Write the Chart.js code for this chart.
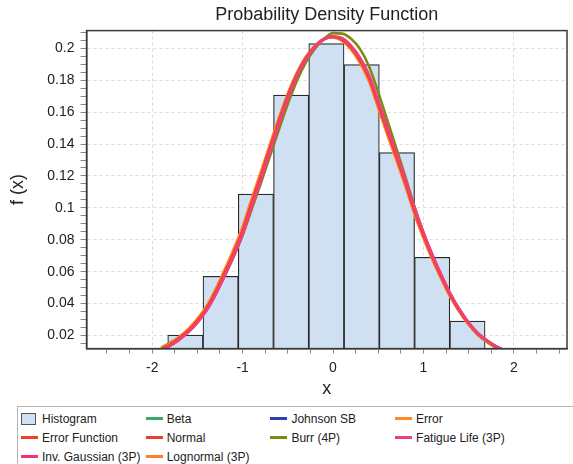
<!DOCTYPE html>
<html>
<head>
<meta charset="utf-8">
<script src="https://cdn.jsdelivr.net/npm/chart.js@4.4.1/dist/chart.umd.min.js"></script>
<style>
  body { margin: 0; background: #fff; width: 573px; height: 464px; overflow: hidden; position: relative; font-family: "Liberation Sans", Arial, sans-serif; }
  #wrap { position: absolute; left: 0; top: 0; width: 573px; height: 400px; }
  #legend { position: absolute; left: 17px; top: 406px; width: 570px; height: 70px; border: 1px solid #b4b4b4; box-sizing: border-box;
            padding: 2px 0 0 3px; display: grid; grid-template-columns: repeat(4, 124.7px); grid-auto-rows: 19px; font-size: 12px; color: #222; }
  .item { display: flex; align-items: center; white-space: nowrap; }
  .sw { width: 17px; height: 2.5px; margin-right: 4px; flex: none; }
  .box { width: 13px; height: 10px; border: 1px solid #555; margin-right: 6px; flex: none; }
</style>
</head>
<body>
<div id="wrap"><canvas id="pdfChart" width="573" height="400"></canvas></div>
<div id="legend"></div>
<script>
// Histograma (centros de clase y alturas)
const binCenters = [-1.633, -1.243, -0.853, -0.463, -0.073, 0.317, 0.707, 1.097, 1.487];
const binHeights = [0.0202, 0.0571, 0.1086, 0.1707, 0.2029, 0.1898, 0.1346, 0.069, 0.029];

const xs = [-1.9, -1.8, -1.7, -1.6, -1.5, -1.4, -1.3, -1.2, -1.1, -1.0, -0.9, -0.8, -0.7, -0.6, -0.5, -0.4, -0.3, -0.2, -0.1, 0.0,
            0.1, 0.2, 0.3, 0.4, 0.5, 0.6, 0.7, 0.8, 0.9, 1.0, 1.1, 1.2, 1.3, 1.4, 1.5, 1.6, 1.7, 1.8, 1.9];
const normalY = [0.0112, 0.0143, 0.0182, 0.0230, 0.0292, 0.0368, 0.0470, 0.0590, 0.0715, 0.0855, 0.1030, 0.1195, 0.1370, 0.1540, 0.1700, 0.1835, 0.1940, 0.2012, 0.2058, 0.2072,
                 0.2055, 0.2005, 0.1925, 0.1812, 0.1650, 0.1485, 0.1325, 0.1160, 0.0985, 0.0830, 0.0690, 0.0565, 0.0450, 0.0355, 0.0275, 0.0212, 0.0168, 0.0132, 0.0105];
const errorY = [0.0118, 0.0150, 0.0190, 0.0240, 0.0304, 0.0382, 0.0488, 0.0610, 0.0738, 0.0880, 0.1055, 0.1220, 0.1392, 0.1560, 0.1715, 0.1845, 0.1945, 0.2015, 0.2060, 0.2068,
                0.2048, 0.1993, 0.1908, 0.1792, 0.1628, 0.1462, 0.1302, 0.1138, 0.0965, 0.0812, 0.0675, 0.0552, 0.0440, 0.0347, 0.0269, 0.0208, 0.0165, 0.0130, 0.0104];
const fatigueY = [0.0106, 0.0136, 0.0174, 0.0221, 0.0281, 0.0356, 0.0455, 0.0573, 0.0697, 0.0835, 0.1008, 0.1173, 0.1350, 0.1522, 0.1685, 0.1825, 0.1933, 0.2008, 0.2056, 0.2074,
                  0.2063, 0.2015, 0.1938, 0.1828, 0.1668, 0.1505, 0.1345, 0.1180, 0.1003, 0.0846, 0.0704, 0.0577, 0.0460, 0.0363, 0.0281, 0.0216, 0.0170, 0.0133, 0.0105];
const burrY = [0.0125, 0.0155, 0.0192, 0.0238, 0.0295, 0.0366, 0.0460, 0.0572, 0.0692, 0.0828, 0.0990, 0.1150, 0.1320, 0.1488, 0.1650, 0.1795, 0.1912, 0.1998, 0.2058, 0.2095,
               0.2092, 0.2060, 0.1995, 0.1885, 0.1725, 0.1550, 0.1375, 0.1195, 0.1010, 0.0845, 0.0698, 0.0568, 0.0450, 0.0352, 0.0270, 0.0205, 0.0160, 0.0124, 0.0097];

const pts = ys => xs.map((x, i) => ({x: x, y: ys[i]}));

function curve(label, ys, color, order) {
    return {
        type: 'line', label: label, data: pts(ys), xAxisID: 'x',
        borderColor: color, backgroundColor: color, borderWidth: 2.6,
        pointRadius: 0, cubicInterpolationMode: 'monotone', order: order
    };
}

const isMult = (v, s) => Math.abs(v / s - Math.round(v / s)) < 1e-6;
const gridCol = s => ctx => (ctx.tick && isMult(ctx.tick.value, s)) ? '#dcdcdc' : 'transparent';

// marco del área de trazado
const frame = {
    id: 'frame',
    afterDraw(chart) {
        const {ctx, chartArea: a} = chart;
        ctx.save();
        ctx.strokeStyle = '#3a3a3a';
        ctx.lineWidth = 1.5;
        ctx.strokeRect(a.left, a.top, a.right - a.left, a.bottom - a.top);
        ctx.restore();
    }
};

Chart.defaults.font.family = '"Liberation Sans", Arial, Helvetica, sans-serif';
Chart.defaults.color = '#222';

const chart = new Chart(document.getElementById('pdfChart'), {
    type: 'bar',
    data: {
        datasets: [
            {
                type: 'bar', label: 'Histogram', xAxisID: 'xb',
                data: binCenters.map((c, i) => ({x: c, y: binHeights[i]})),
                backgroundColor: '#cfe0f3', borderColor: '#2a2a2a', borderWidth: 1.2,
                barPercentage: 1, categoryPercentage: 1, grouped: false, order: 10
            },
            curve('Beta', normalY, '#3aa868', 6),
            curve('Johnson SB', normalY, '#3040a8', 5),
            curve('Error', errorY, '#ff8a2a', 3),
            curve('Error Function', normalY, '#f0402a', 2),
            curve('Normal', normalY, '#e8402a', 2),
            curve('Burr (4P)', burrY, '#808a10', 4),
            curve('Fatigue Life (3P)', fatigueY, '#f0407a', 1),
            curve('Inv. Gaussian (3P)', fatigueY, '#ee3478', 1),
            curve('Lognormal (3P)', errorY, '#ff7f27', 3)
        ]
    },
    options: {
        responsive: false,
        animation: false,
        layout: { padding: { left: 7.7, right: 6, top: 0, bottom: 0 } },
        plugins: {
            legend: { display: false },
            tooltip: { enabled: false },
            title: {
                display: true, text: 'Probability Density Function', fullSize: false,
                font: { size: 18, weight: 'normal' }, color: '#222', padding: { top: 4, bottom: 5 }
            }
        },
        scales: {
            x: {
                type: 'linear', min: -2.726, max: 2.588, offset: false,
                ticks: {
                    stepSize: 0.25, autoSkip: false, includeBounds: false, maxRotation: 0,
                    padding: 6, font: { size: 14 }, color: '#222',
                    callback: v => isMult(v, 1) ? String(Math.round(v)) : ''
                },
                grid: { offset: false, color: gridCol(1), tickColor: '#888', tickLength: 5, tickBorderDash: [] },
                border: { color: '#3a3a3a', width: 1.5, dash: [3, 3] },
                title: { display: true, text: 'x', font: { size: 18 }, color: '#222', padding: { top: -4, bottom: 0 } }
            },
            xb: {
                type: 'linear', min: -2.726, max: 2.588, offset: false, display: false,
                grid: { offset: false },
                ticks: { stepSize: 1 }
            },
            y: {
                min: 0.0118, max: 0.2111,
                ticks: {
                    stepSize: 0.005, autoSkip: false, includeBounds: false,
                    padding: 6, font: { size: 14 }, color: '#222',
                    callback: v => isMult(v, 0.02) ? String(Math.round(v * 100) / 100) : ''
                },
                grid: { color: gridCol(0.02), tickColor: '#888', tickLength: 6, tickBorderDash: [] },
                border: { color: '#3a3a3a', width: 1.5, dash: [3, 3] },
                title: { display: true, text: 'f (x)', font: { size: 18 }, color: '#222', padding: { top: 0, bottom: 12 } }
            }
        }
    },
    plugins: [frame]
});

// leyenda en HTML, 4 columnas
const legendEl = document.getElementById('legend');
chart.data.datasets.forEach(ds => {
    const item = document.createElement('div');
    item.className = 'item';
    const sw = document.createElement('span');
    if (ds.type === 'bar') {
        sw.className = 'box';
        sw.style.background = ds.backgroundColor;
    } else {
        sw.className = 'sw';
        sw.style.background = ds.borderColor;
    }
    const txt = document.createElement('span');
    txt.textContent = ds.label;
    item.appendChild(sw);
    item.appendChild(txt);
    legendEl.appendChild(item);
});
</script>
</body>
</html>
